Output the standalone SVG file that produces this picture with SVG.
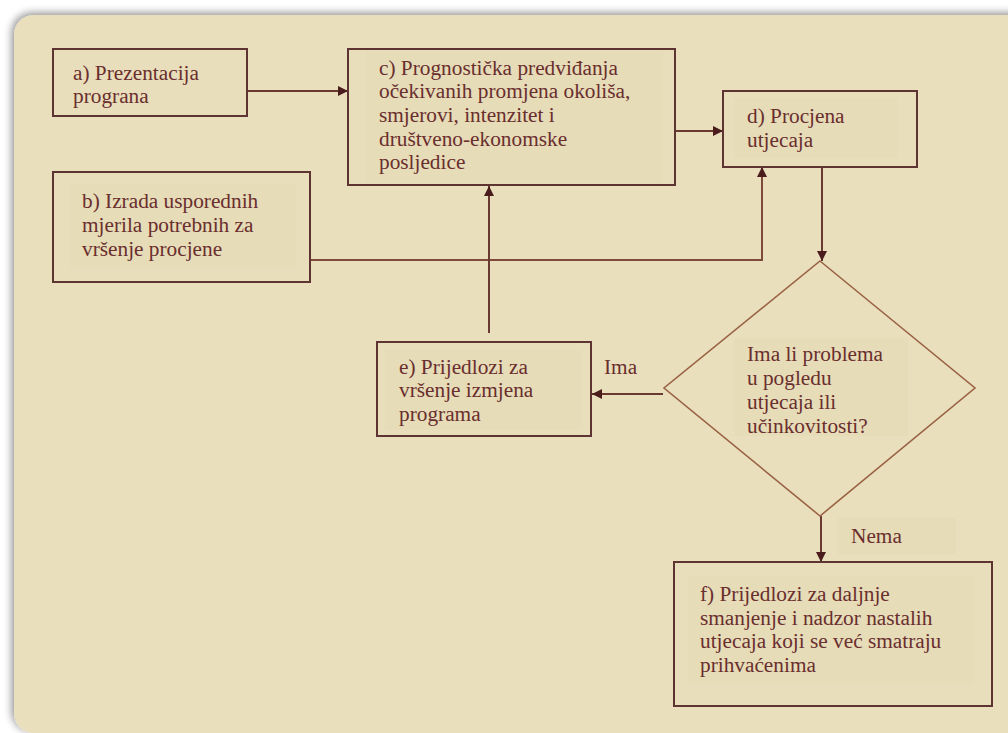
<svg xmlns="http://www.w3.org/2000/svg" width="1008" height="733" viewBox="0 0 1008 733">
<defs>
<filter id="sh" x="-5%" y="-5%" width="110%" height="110%">
<feGaussianBlur in="SourceAlpha" stdDeviation="4"/>
<feOffset dx="-2" dy="-2" result="b"/>
<feComponentTransfer><feFuncA type="linear" slope="0.45"/></feComponentTransfer>
<feMerge><feMergeNode/><feMergeNode in="SourceGraphic"/></feMerge>
</filter>
<marker id="ah" viewBox="0 0 10 10" refX="10" refY="5" markerWidth="5.5" markerHeight="5" markerUnits="strokeWidth" orient="auto">
<path d="M0,0 L10,5 L0,10 z" fill="#4a1c1c"/>
</marker>
<style>
.box{fill:#E8DEBB;stroke:#5e3432;stroke-width:2}
.hl{fill:#E6DCB8}
.dia{fill:#E9DFBD;stroke:#9a6244;stroke-width:1.6}
.tx{font-family:'Liberation Serif',serif;font-size:21.3px;fill:#6a2e2e}
.c{fill:none;stroke:#6a3a32;stroke-width:2}
.c2{fill:none;stroke:#7e4a3a;stroke-width:2}
</style>
</defs>
<rect width="1008" height="733" fill="#ffffff"/>
<rect x="14" y="15" width="1030" height="718" rx="20" fill="#E9DFBD" filter="url(#sh)"/>

<g id="connectors">
<path class="c" d="M247,91 H348" marker-end="url(#ah)"/>
<path class="c" d="M675,131 H723" marker-end="url(#ah)"/>
<path class="c2" d="M310,260 H762 V167" marker-end="url(#ah)"/>
<path class="c" d="M822,167 V261" marker-end="url(#ah)"/>
<path class="c" d="M489,333 V186" marker-end="url(#ah)"/>
<path class="c" d="M663,394 H592" marker-end="url(#ah)"/>
<path class="c" d="M821,516 V562" marker-end="url(#ah)"/>
</g>

<g id="node-a">
<rect class="box" x="53" y="49" width="194" height="67"/>
<text class="tx" style="font-family:'Liberation Serif',serif" x="73" y="80">a) Prezentacija</text>
<text class="tx" style="font-family:'Liberation Serif',serif" x="73" y="103">prograna</text>
</g>

<g id="node-b">
<rect class="box" x="53" y="172" width="257" height="110"/>
<rect class="hl" x="70" y="184" width="226" height="84"/>
<text class="tx" style="font-family:'Liberation Serif',serif" x="82" y="208">b) Izrada usporednih</text>
<text class="tx" style="font-family:'Liberation Serif',serif" x="82" y="232">mjerila potrebnih za</text>
<text class="tx" style="font-family:'Liberation Serif',serif" x="82" y="256">vršenje procjene</text>
</g>

<g id="node-c">
<rect class="box" x="348" y="49" width="327" height="136"/>
<rect class="hl" x="366" y="51" width="297" height="132"/>
<text class="tx" style="font-family:'Liberation Serif',serif" x="379" y="75">c) Prognostička predviđanja</text>
<text class="tx" style="font-family:'Liberation Serif',serif" x="379" y="98">očekivanih promjena okoliša,</text>
<text class="tx" style="font-family:'Liberation Serif',serif" x="379" y="122">smjerovi, intenzitet i</text>
<text class="tx" style="font-family:'Liberation Serif',serif" x="379" y="146">društveno-ekonomske</text>
<text class="tx" style="font-family:'Liberation Serif',serif" x="379" y="169">posljedice</text>
</g>

<g id="node-d">
<rect class="box" x="723" y="91" width="194" height="76"/>
<rect class="hl" x="734" y="98" width="164" height="60"/>
<text class="tx" style="font-family:'Liberation Serif',serif" x="747" y="123">d) Procjena</text>
<text class="tx" style="font-family:'Liberation Serif',serif" x="747" y="147">utjecaja</text>
</g>

<g id="node-decision">
<path class="dia" d="M820,261 L975,388 L820,516 L664,388 Z"/>
<rect class="hl" x="734" y="338" width="174" height="98"/>
<text class="tx" style="font-family:'Liberation Serif',serif" x="747" y="361">Ima li problema</text>
<text class="tx" style="font-family:'Liberation Serif',serif" x="747" y="385">u pogledu</text>
<text class="tx" style="font-family:'Liberation Serif',serif" x="747" y="409">utjecaja ili</text>
<text class="tx" style="font-family:'Liberation Serif',serif" x="747" y="433">učinkovitosti?</text>
</g>

<g id="node-e">
<rect class="box" x="377" y="342" width="214" height="94"/>
<rect class="hl" x="385" y="350" width="196" height="80"/>
<text class="tx" style="font-family:'Liberation Serif',serif" x="399" y="374">e) Prijedlozi za</text>
<text class="tx" style="font-family:'Liberation Serif',serif" x="399" y="397">vršenje izmjena</text>
<text class="tx" style="font-family:'Liberation Serif',serif" x="399" y="421">programa</text>
</g>

<g id="label-ima">
<text class="tx" style="font-family:'Liberation Serif',serif" x="604" y="374">Ima</text>
</g>

<g id="label-nema">
<rect class="hl" x="838" y="518" width="118" height="36"/>
<text class="tx" style="font-family:'Liberation Serif',serif" x="851" y="543">Nema</text>
</g>

<g id="node-f">
<rect class="box" x="674" y="562" width="318" height="144"/>
<rect class="hl" x="688" y="576" width="286" height="108"/>
<text class="tx" style="font-family:'Liberation Serif',serif" x="700" y="601">f) Prijedlozi  za daljnje</text>
<text class="tx" style="font-family:'Liberation Serif',serif" x="700" y="625">smanjenje i nadzor nastalih</text>
<text class="tx" style="font-family:'Liberation Serif',serif" x="700" y="648">utjecaja koji se već smatraju</text>
<text class="tx" style="font-family:'Liberation Serif',serif" x="700" y="672">prihvaćenima</text>
</g>
</svg>
